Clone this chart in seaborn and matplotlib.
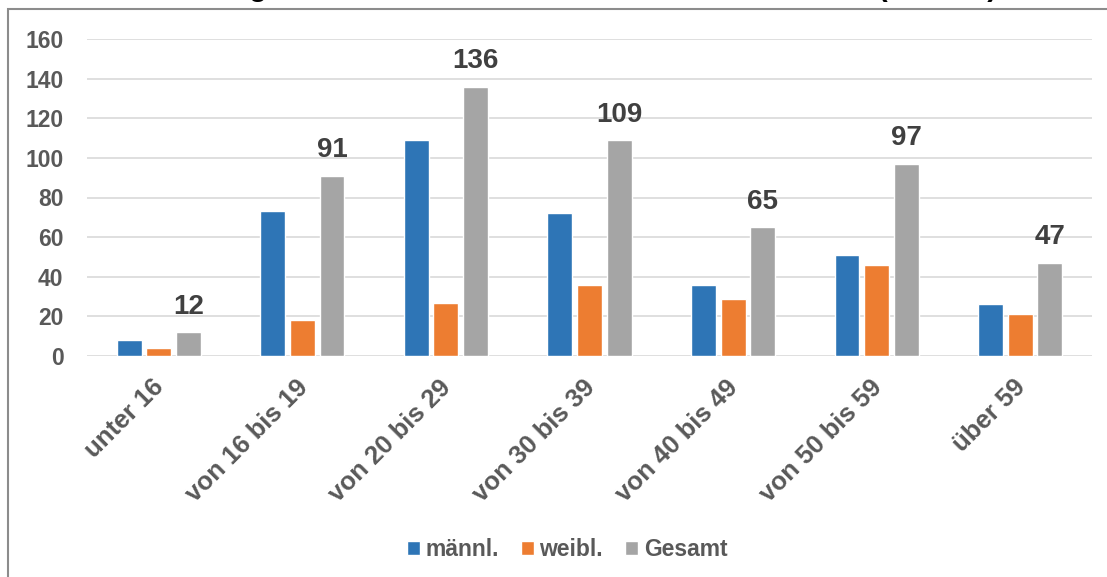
import matplotlib
matplotlib.use("Agg")
import matplotlib.pyplot as plt
from matplotlib.patches import Rectangle
from matplotlib.transforms import ScaledTranslation, blended_transform_factory
import pandas as pd
import seaborn as sns

# Age groups and counts per gender
age_groups = ["unter 16", "von 16 bis 19", "von 20 bis 29", "von 30 bis 39",
              "von 40 bis 49", "von 50 bis 59", "über 59"]
maennl = [8, 73, 109, 72, 36, 51, 26]
weibl = [4, 18, 27, 36, 29, 46, 21]
gesamt = [12, 91, 136, 109, 65, 97, 47]
series_names = ["männl.", "weibl.", "Gesamt"]
series_colors = ["#2E75B6", "#ED7D31", "#A5A5A5"]
y_ticks = [0, 20, 40, 60, 80, 100, 120, 140, 160]
title_text = "Abbildung 4: Altersstruktur der Fälle nach Geschlecht (n = 557)"

df = pd.DataFrame({
    "Alter": age_groups * 3,
    "Gruppe": [series_names[0]] * 7 + [series_names[1]] * 7 + [series_names[2]] * 7,
    "Anzahl": maennl + weibl + gesamt,
})

sns.set_theme(style="white")
plt.rcParams["font.family"] = ["Liberation Sans", "DejaVu Sans"]
plt.rcParams["font.weight"] = "bold"

fig = plt.figure(figsize=(11.07, 5.77), dpi=100)
ax = fig.add_axes([87 / 1107, 221 / 577, (1092 - 87) / 1107, (538 - 221) / 577])

sns.barplot(data=df, x="Alter", y="Anzahl", hue="Gruppe", order=age_groups,
            hue_order=series_names, palette=series_colors, width=0.62, gap=0.16,
            saturation=1, ax=ax, legend=True, zorder=3)

# Value labels on the total bars
ax.bar_label(ax.containers[2], labels=[str(v) for v in gesamt], padding=9,
             fontsize=20, fontweight="bold", color="#404040")

ax.set_ylim(0, 160)
ax.set_xlim(-0.5, len(age_groups) - 0.5)
ax.set_yticks(y_ticks)
ax.set_yticklabels([str(t) for t in y_ticks])
ax.set_xlabel("")
ax.set_ylabel("")
ax.grid(axis="y", color="#D9D9D9", linewidth=1.2, zorder=0)
ax.grid(axis="x", visible=False)
for s in ax.spines.values():
    s.set_visible(False)
ax.tick_params(axis="both", length=0)
ax.tick_params(axis="y", pad=17, labelsize=16.5, labelcolor="#595959")
for lbl in ax.get_yticklabels():
    lbl.set_fontweight("bold")

# Rotated category labels below the axis
ticks = ax.get_xticks()
ax.set_xticks(ticks)
ax.set_xticklabels([""] * len(ticks))
base = blended_transform_factory(ax.transData, ax.transAxes)
offset = ScaledTranslation(-0.07, -0.19, fig.dpi_scale_trans)
for x, name in zip(ticks, age_groups):
    ax.text(x, 0, name, transform=base + offset, rotation=45, ha="right",
            va="top", rotation_mode="anchor", fontsize=18.5, fontweight="bold",
            color="#595959", clip_on=False)

# Legend below the chart
handles, labels = ax.get_legend_handles_labels()
ax.get_legend().remove()
leg = fig.legend(handles, labels, loc="center", bbox_to_anchor=(567 / 1107, 27 / 577),
                 ncol=3, frameon=False, fontsize=16.5, handlelength=0.57,
                 handleheight=0.57, handletextpad=0.25, columnspacing=0.95)
for t in leg.get_texts():
    t.set_color("#595959")
    t.set_fontweight("bold")

# Chart frame
fig.patches.append(Rectangle((8 / 1107, -0.2), 1.5, 1.2 - 9 / 577,
                             transform=fig.transFigure, fill=False,
                             edgecolor="#8C8C8C", linewidth=1.5, zorder=0))

# Title
fig.text(560 / 1107, 1 + 4 / 577, title_text, ha="center", va="baseline",
         fontsize=21, fontweight="bold", color="black")

fig.savefig("out.png", dpi=100)
